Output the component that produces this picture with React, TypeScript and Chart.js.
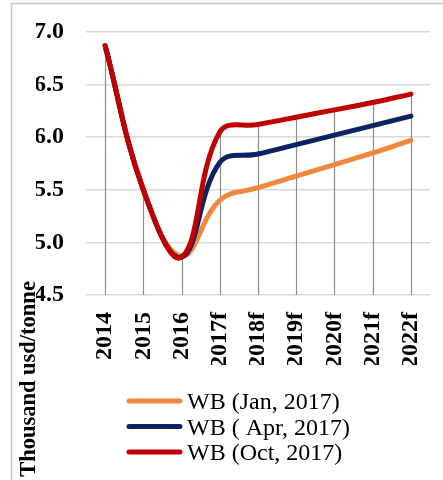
import React, { useEffect, useRef } from "react";
import { Chart, registerables } from "chart.js";

Chart.register(...registerables);

const years = ["2014", "2015", "2016", "2017f", "2018f", "2019f", "2020f", "2021f", "2022f"];
const wbJan = [6.87, 5.5, 4.87, 5.4, 5.52, 5.63, 5.74, 5.85, 5.97];
const wbApr = [6.87, 5.5, 4.86, 5.76, 5.84, 5.93, 6.02, 6.11, 6.2];
const wbOct = [6.87, 5.5, 4.86, 6.05, 6.12, 6.19, 6.26, 6.33, 6.41];
const seriesLabels = ["WB (Jan, 2017)", "WB ( Apr, 2017)", "WB (Oct, 2017)"];
const seriesColors = ["#F0883E", "#0B2265", "#C00000"];
const yTitle = "Thousand usd/tonne";

const SERIF = "'Liberation Serif', 'Times New Roman', serif";

const decorPlugin = {
  id: "decor",
  beforeDraw(chart: any) {
    const ctx = chart.ctx;
    ctx.save();
    ctx.strokeStyle = "#c8c8c8";
    ctx.lineWidth = 1.5;
    ctx.beginPath();
    ctx.moveTo(11.5, 480);
    ctx.lineTo(11.5, 3.5);
    ctx.lineTo(443, 3.5);
    ctx.stroke();
    ctx.restore();
  },
  beforeDatasetsDraw(chart: any) {
    const ctx = chart.ctx;
    const x = chart.scales.x;
    const y = chart.scales.y;
    ctx.save();
    ctx.strokeStyle = "#8c8c8c";
    ctx.lineWidth = 1.2;
    years.forEach((_, i) => {
      const vals = chart.data.datasets.map((d: any) => d.data[i]);
      const top = Math.max(...vals);
      const px = Math.round(x.getPixelForValue(i)) + 0.5;
      ctx.beginPath();
      ctx.moveTo(px, y.getPixelForValue(top));
      ctx.lineTo(px, y.getPixelForValue(y.min));
      ctx.stroke();
    });
    ctx.restore();
  },
  afterDraw(chart: any) {
    const ctx = chart.ctx;
    ctx.save();
    // legend
    const rowY = [401, 426.5, 452];
    chart.data.datasets.forEach((d: any, i: number) => {
      const cy = rowY[i];
      ctx.strokeStyle = d.borderColor;
      ctx.lineWidth = 5;
      ctx.lineCap = "round";
      ctx.beginPath();
      ctx.moveTo(129, cy);
      ctx.lineTo(180, cy);
      ctx.stroke();
      ctx.fillStyle = "#000";
      ctx.font = `24px ${SERIF}`;
      ctx.textAlign = "left";
      ctx.textBaseline = "alphabetic";
      ctx.fillText(d.label, 187, cy + 8);
    });
    // y title
    ctx.translate(35, 379);
    ctx.rotate(-Math.PI / 2);
    ctx.font = `bold 22.5px ${SERIF}`;
    ctx.textAlign = "center";
    ctx.textBaseline = "alphabetic";
    ctx.fillStyle = "#000";
    ctx.fillText(yTitle, 0, 0);
    ctx.restore();
  },
};

export default function App() {
  const ref = useRef<HTMLCanvasElement | null>(null);
  useEffect(() => {
    if (!ref.current) return;
    const seriesData = [wbJan, wbApr, wbOct];
    const chart = new Chart(ref.current, {
      type: "line",
      data: {
        labels: years,
        datasets: seriesData.map((data, i) => ({
          label: seriesLabels[i],
          data,
          borderColor: seriesColors[i],
          backgroundColor: seriesColors[i],
          borderWidth: 5,
          borderCapStyle: "round",
          borderJoinStyle: "round",
          pointRadius: 0,
          pointHoverRadius: 0,
          tension: 0.4,
          fill: false,
          order: 3 - i,
        })),
      },
      options: {
        responsive: false,
        animation: false,
        devicePixelRatio: 1,
        layout: { padding: { top: 32, left: 36, right: 13, bottom: 115 } },
        plugins: {
          legend: { display: false },
          tooltip: { enabled: false },
          title: { display: false },
        },
        scales: {
          x: {
            offset: true,
            grid: { display: false, drawTicks: false },
            border: { display: false },
            ticks: {
              minRotation: 90,
              maxRotation: 90,
              padding: 17,
              color: "#000",
              font: { family: SERIF, size: 24, weight: "bold" },
            },
            afterFit: (s: any) => {
              s.height = 70;
              s.paddingLeft = 0;
              s.paddingRight = 0;
            },
          },
          y: {
            min: 4.5,
            max: 7.0,
            grid: { color: "#d9d9d9", lineWidth: 1.5, drawTicks: false },
            border: { display: false },
            ticks: {
              stepSize: 0.5,
              padding: 22,
              color: "#000",
              font: { family: SERIF, size: 24, weight: "bold" },
              callback: (v: any) => Number(v).toFixed(1),
            },
            afterFit: (s: any) => {
              s.width = 50;
              s.paddingTop = 0;
              s.paddingBottom = 0;
            },
          },
        },
      },
      plugins: [decorPlugin],
    });
    return () => chart.destroy();
  }, []);
  return (
    <div style={{ position: "fixed", left: 0, top: 0, width: 443, height: 480, background: "#fff" }}>
      <canvas ref={ref} width={443} height={480} style={{ width: 443, height: 480, display: "block" }} />
    </div>
  );
}
